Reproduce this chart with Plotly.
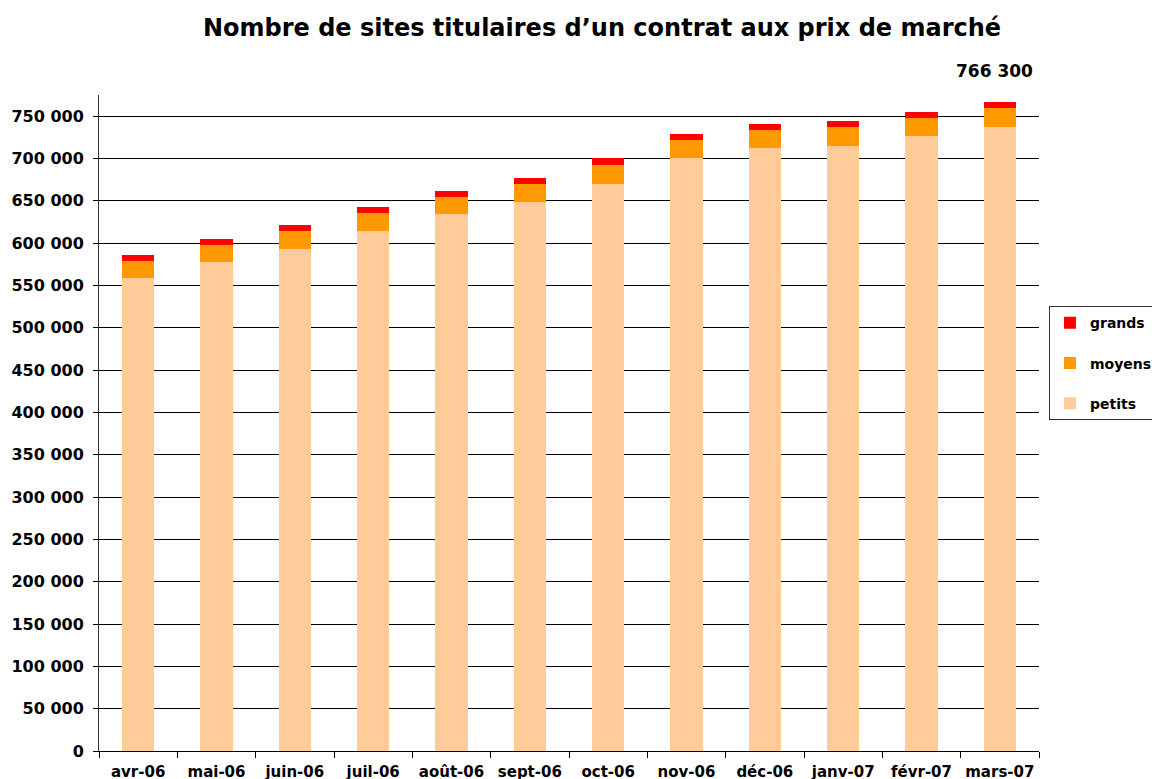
import plotly.graph_objects as go

months = ["avr-06", "mai-06", "juin-06", "juil-06", "août-06", "sept-06",
          "oct-06", "nov-06", "déc-06", "janv-07", "févr-07", "mars-07"]
petits = [559000, 578000, 593000, 614300, 634400, 648600,
          669800, 700400, 712300, 714600, 726400, 737000]
moyens = [20000, 19900, 21300, 21300, 20000, 21200,
          22400, 21400, 21400, 22400, 21200, 22300]
grands = [7000, 7000, 7100, 7000, 7100, 7100,
          7900, 7100, 7100, 7100, 7100, 7000]
y_ticks = list(range(0, 750001, 50000))

FONT = "DejaVu Sans"

fig = go.Figure()
for rank, (name, vals, col) in enumerate([("petits", petits, "#FFCC99"),
                                          ("moyens", moyens, "#FF9900"),
                                          ("grands", grands, "#FF0000")]):
    fig.add_trace(go.Bar(x=months, y=vals, name=name, marker_color=col,
                         marker_line_width=0, legendgroup=name,
                         legendrank=3 - rank))

last_total = petits[-1] + moyens[-1] + grands[-1]
fig.add_annotation(x=months[-1], y=last_total, yref="y", xref="x",
                   text=f"{last_total:,}".replace(",", " "),
                   showarrow=False, yshift=31, xshift=-5,
                   font=dict(family=FONT, size=17, color="black", weight="bold"))

fig.update_layout(
    width=1152, height=779,
    barmode="stack", bargap=0.59,
    separators=", ",
    plot_bgcolor="white", paper_bgcolor="white",
    margin=dict(l=99, r=113, t=95, b=28, autoexpand=False),
    title=dict(text="Nombre de sites titulaires d’un contrat aux prix de marché",
               x=0.5226, xanchor="center", y=0.965, yanchor="middle",
               font=dict(family=FONT, size=24, color="black", weight="bold")),
    legend=dict(x=1.0106, xanchor="left", y=0.678, yanchor="top",
                traceorder="grouped", tracegroupgap=19,
                bordercolor="#333333", borderwidth=1, bgcolor="white",
                font=dict(family=FONT, size=14, color="black", weight="bold")),
    xaxis=dict(showline=True, linecolor="black", linewidth=1,
               ticks="outside", tickson="boundaries", ticklen=6,
               tickcolor="black", ticklabelstandoff=7,
               tickfont=dict(family=FONT, size=15, color="black", weight="bold")),
    yaxis=dict(range=[0, 775000], tickvals=y_ticks,
               tickformat=",d",
               showline=True, linecolor="#333333", linewidth=1,
               ticks="outside", ticklen=5, tickcolor="black",
               ticklabelstandoff=6,
               showgrid=True, gridcolor="black", gridwidth=1,
               zeroline=False,
               tickfont=dict(family=FONT, size=16, color="black", weight="bold")),
)

fig.write_html("out.html",
               config={"displayModeBar": False},
               post_script="document.body.style.margin='0px';"
                           "document.body.style.overflow='hidden';")
